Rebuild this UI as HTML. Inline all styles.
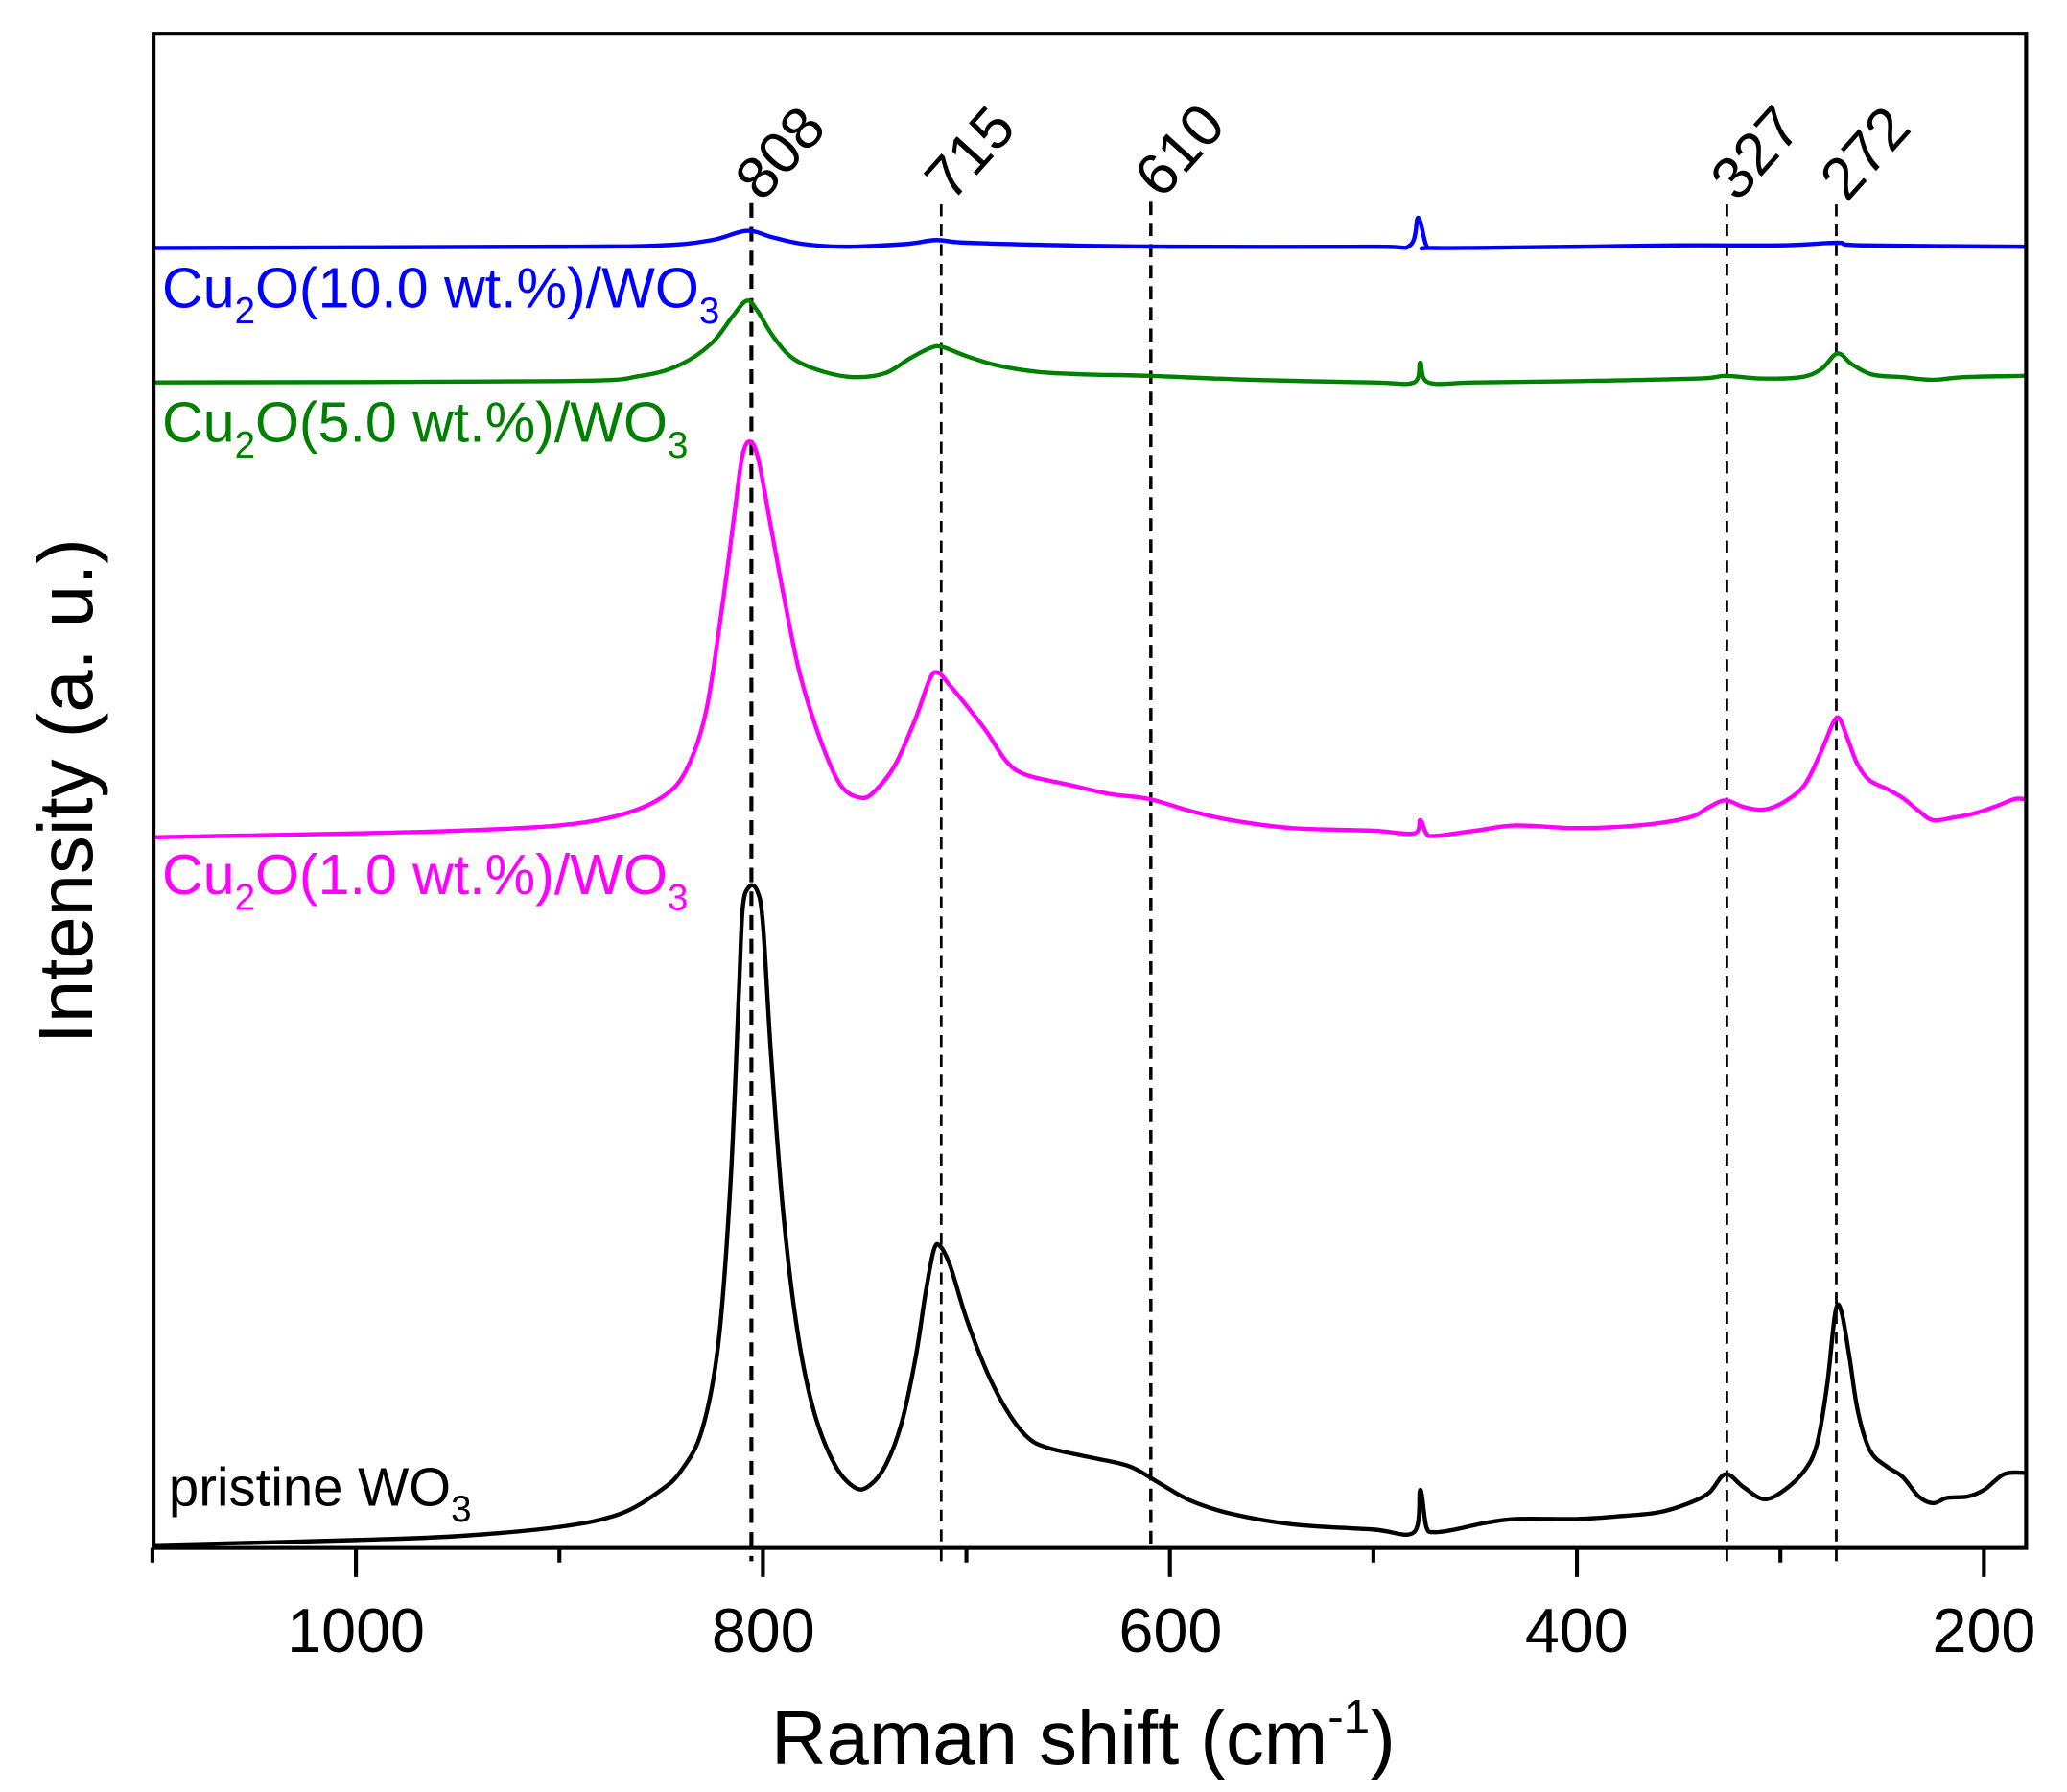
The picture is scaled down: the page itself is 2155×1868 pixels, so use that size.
<!DOCTYPE html>
<html><head><meta charset="utf-8"><style>
html,body{margin:0;padding:0;background:#fff;}
svg{display:block;}
text{font-family:"Liberation Sans",Arial,sans-serif;}
</style></head><body>
<svg id="s" width="2155" height="1868" viewBox="0 0 1568 1359" xmlns="http://www.w3.org/2000/svg">
<rect width="1568" height="1359" fill="#fff"/>
<g id="dash" stroke="#000" fill="none">
<line x1="570" y1="154" x2="570" y2="1184" stroke-width="3" stroke-dasharray="11,7"/>
<line x1="714" y1="155" x2="714" y2="1184" stroke-width="2" stroke-dasharray="9,6"/>
<line x1="873" y1="153" x2="873" y2="1174" stroke-width="2.5" stroke-dasharray="10,6"/>
<line x1="1310" y1="155" x2="1310" y2="1184" stroke-width="2" stroke-dasharray="9,6"/>
<line x1="1393" y1="155" x2="1393" y2="1184" stroke-width="2" stroke-dasharray="9,6"/>
</g>
<g font-size="45" fill="#000">
<text transform="translate(578,154) rotate(-48)">808</text>
<text transform="translate(722,154) rotate(-48)">715</text>
<text transform="translate(881,152) rotate(-48)">610</text>
<text transform="translate(1318,154) rotate(-48)">327</text>
<text transform="translate(1401,154) rotate(-48)">272</text>
</g>
<g id="curves" fill="none" stroke-width="3.2" stroke-linejoin="round"></g>
<rect x="116.5" y="25.5" width="1420.5" height="1148.5" fill="none" stroke="#000" stroke-width="3"/>
<g id="ticks" stroke="#000" stroke-width="3"></g>
<g font-size="47" fill="#000" text-anchor="middle">
<text x="270" y="1253">1000</text>
<text x="579" y="1253">800</text>
<text x="888" y="1253">600</text>
<text x="1196" y="1253">400</text>
<text x="1505" y="1253">200</text>
</g>
<text x="585" y="1338" font-size="58" fill="#000">Raman shift (cm<tspan font-size="36" dy="-24">-1</tspan><tspan dy="24">)</tspan></text>
<text transform="translate(70,600) rotate(-90)" font-size="58" fill="#000" text-anchor="middle">Intensity (a. u.)</text>
<g font-size="43">
<text x="123" y="233" fill="#0000ff">Cu<tspan font-size="28" dy="12">2</tspan><tspan dy="-12">O(10.0 wt.%)/WO</tspan><tspan font-size="28" dy="12">3</tspan></text>
<text x="123" y="335" fill="#008000">Cu<tspan font-size="28" dy="12">2</tspan><tspan dy="-12">O(5.0 wt.%)/WO</tspan><tspan font-size="28" dy="12">3</tspan></text>
<text x="123" y="678" fill="#ff00ff">Cu<tspan font-size="28" dy="12">2</tspan><tspan dy="-12">O(1.0 wt.%)/WO</tspan><tspan font-size="28" dy="12">3</tspan></text>
<text x="128" y="1142" fill="#000" font-size="41">pristine WO<tspan font-size="28" dy="12">3</tspan></text>
</g>
</svg>
<script>
function X(v){return 270+(1000-v)*1.5437;}
var D={
"#000000":[1100,1172,1000,1168,950,1165,900,1158,870,1148,850,1130,840,1115,830,1085,822,1020,816,900,812,760,810,690,807,673,803,675,800,700,796,800,790,920,783,1010,775,1070,765,1110,755,1128,748,1127,740,1112,732,1080,725,1030,720,980,716,948,713,945,708,960,700,1000,690,1040,680,1070,670,1090,660,1098,640,1105,620,1112,605,1125,590,1138,570,1148,540,1156,500,1160,480,1162,477,1130,474,1158,470,1162,460,1160,445,1155,430,1152,400,1152,380,1150,360,1147,345,1140,335,1132,327,1118,318,1128,308,1137,298,1130,288,1115,282,1095,277,1050,273,995,270,995,266,1030,262,1070,256,1100,248,1112,240,1120,232,1135,225,1140,218,1136,208,1135,200,1130,190,1118,180,1117],
"#ff00ff":[1100,635,1000,632,950,630,900,626,870,618,850,605,838,585,828,540,820,460,814,390,810,345,806,335,802,350,796,400,790,450,782,510,772,560,762,595,752,605,745,600,735,580,725,545,718,515,714,510,708,520,700,535,690,555,680,578,670,588,650,595,630,602,610,606,590,615,570,622,540,628,500,630,480,632,477,622,474,632,470,634,450,630,430,626,400,628,370,626,345,620,335,612,327,607,318,612,308,614,298,608,288,595,280,570,274,548,271,545,267,560,262,580,256,592,248,598,240,605,232,615,225,622,215,620,205,617,195,612,185,606,180,606],
"#008000":[1100,290,900,289,860,285,840,276,825,260,815,240,808,228,803,235,795,255,785,272,770,282,755,286,740,283,728,272,718,264,712,263,700,270,685,277,665,282,640,284,610,285,560,288,500,290,480,290,477,275,473,290,450,290,400,289,340,287,327,285,310,287,290,286,280,280,272,268,265,276,255,284,240,286,225,288,210,286,180,285],
"#0000ff":[1100,188,900,187,850,186,825,182,808,175,795,180,780,185,760,187,730,185,715,182,700,184,650,186,600,187,500,187,482,186,478,165,474,186,470,188,400,187,350,186,300,186,272,184,260,186,180,187]
};
var g=document.getElementById('curves'),ns="http://www.w3.org/2000/svg";
for(var c in D){var a=D[c],p=[];for(var i=0;i<a.length;i+=2)p.push([X(a[i]),a[i+1]]);
var d="M"+p[0][0].toFixed(1)+","+p[0][1];
for(var i=0;i<p.length-1;i++){var p0=p[i-1]||p[i],p1=p[i],p2=p[i+1],p3=p[i+2]||p2;
var c1x=p1[0]+(p2[0]-p0[0])/6,c1y=p1[1]+(p2[1]-p0[1])/6,c2x=p2[0]-(p3[0]-p1[0])/6,c2y=p2[1]-(p3[1]-p1[1])/6;
d+="C"+c1x.toFixed(1)+","+c1y.toFixed(1)+" "+c2x.toFixed(1)+","+c2y.toFixed(1)+" "+p2[0].toFixed(1)+","+p2[1];}
var e=document.createElementNS(ns,"path");e.setAttribute("d",d);e.setAttribute("stroke",c);g.appendChild(e);}
var t=document.getElementById('ticks');
for(var v=1100;v>=200;v-=100){var x=X(v),L=(v%200==0)?22:11;if(v==1100)L=11;
var l=document.createElementNS(ns,"line");l.setAttribute("x1",x);l.setAttribute("x2",x);l.setAttribute("y1",1174);l.setAttribute("y2",1174+L);t.appendChild(l);}
</script>
</body></html>
